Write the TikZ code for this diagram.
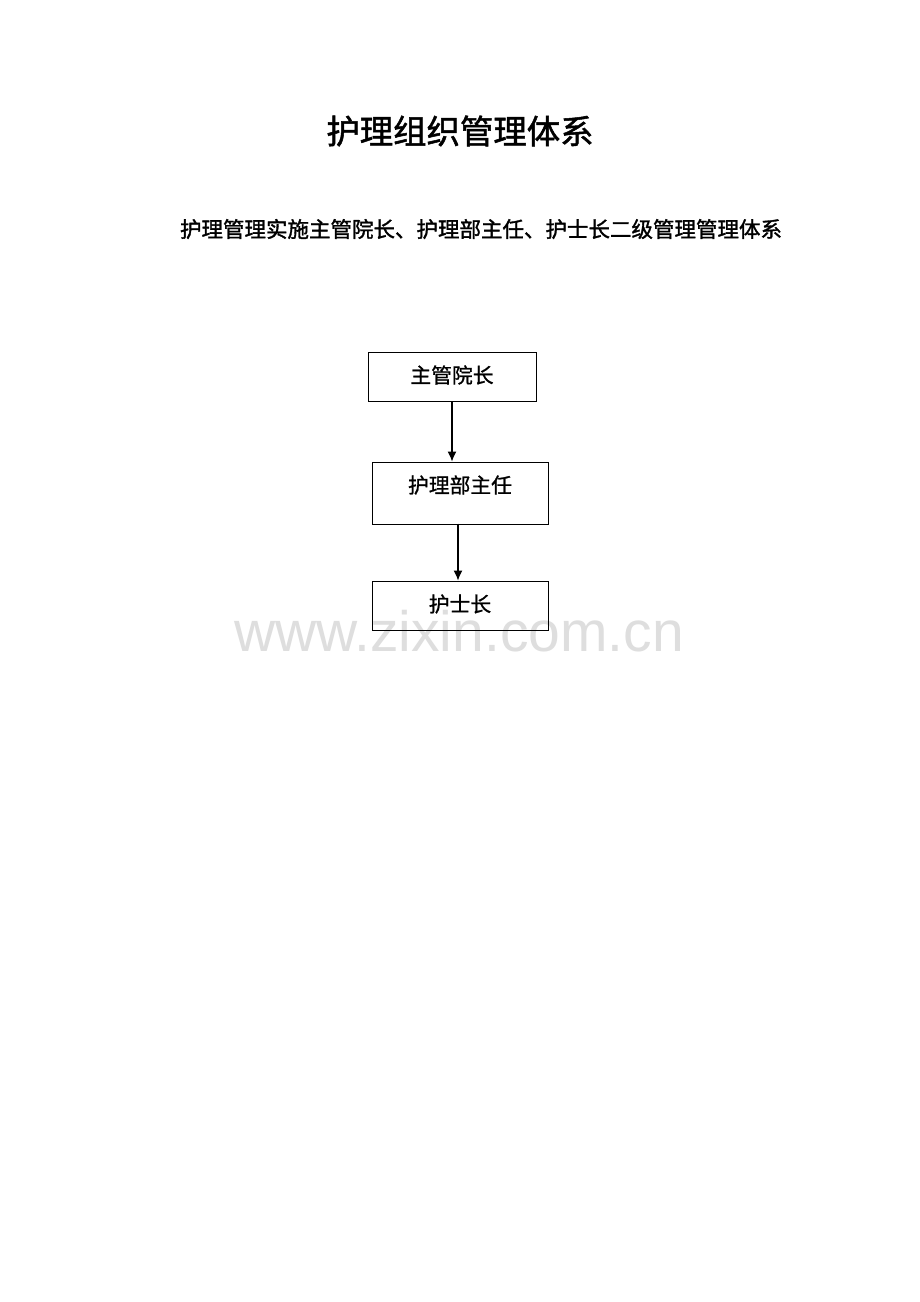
\documentclass[tikz,border=0pt]{standalone}
\usepackage{fontspec}
\newfontfamily\cjk{Noto Sans CJK SC}
\newfontfamily\cjkm[FakeBold=1.5]{Noto Sans CJK SC}
\newfontfamily\cjkb[FakeBold=1.0]{Noto Sans CJK SC}
\setsansfont{Liberation Sans}
\usetikzlibrary{arrows.meta,calc}
\tikzset{
  box/.style={draw=black, line width=0.5pt, fill=none, inner sep=0pt},
  boxtext/.style={font=\cjkb\fontsize{10.4pt}{12pt}\selectfont, inner sep=0pt},
  conn/.style={line width=0.6pt, -{Latex[length=5pt,width=4.5pt]}},
}
\begin{document}
\begin{tikzpicture}[x=0.5pt,y=-0.5pt]
\fill[white] (0,0) rectangle (920,1302);
\useasboundingbox (0,0) rectangle (920,1302);
% watermark
\node[font=\sffamily\fontsize{28.5pt}{30pt}\selectfont, text=black!13, inner sep=0pt] (wm) at (459,631) {www.zixin.com.cn};
% titles
\node[font=\cjkm\fontsize{16.7pt}{20pt}\selectfont, inner sep=0pt] (title) at (460,131) {护理组织管理体系};
\node[font=\cjkm\fontsize{10.75pt}{13pt}\selectfont, inner sep=0pt] (sub) at (481,229) {护理管理实施主管院长、护理部主任、护士长二级管理管理体系};
% boxes
\node[box, minimum width=84pt, minimum height=24.5pt] (b1) at (452,376.5) {};
\node[boxtext] (t1) at (452,375) {主管院长};
\node[box, minimum width=88pt, minimum height=31pt] (b2) at (460,493) {};
\node[boxtext] (t2) at (460,485) {护理部主任};
\node[box, minimum width=88pt, minimum height=24.5pt] (b3) at (460,605.5) {};
\node[boxtext] (t3) at (460,604) {护士长};
% connectors
\draw[conn] (b1.south) -- (b1.south |- b2.north);
\coordinate (c2) at ($(b2.south)+(-2,-1)$);
\draw[conn] (c2) -- (c2 |- b3.north);
\end{tikzpicture}
\end{document}
